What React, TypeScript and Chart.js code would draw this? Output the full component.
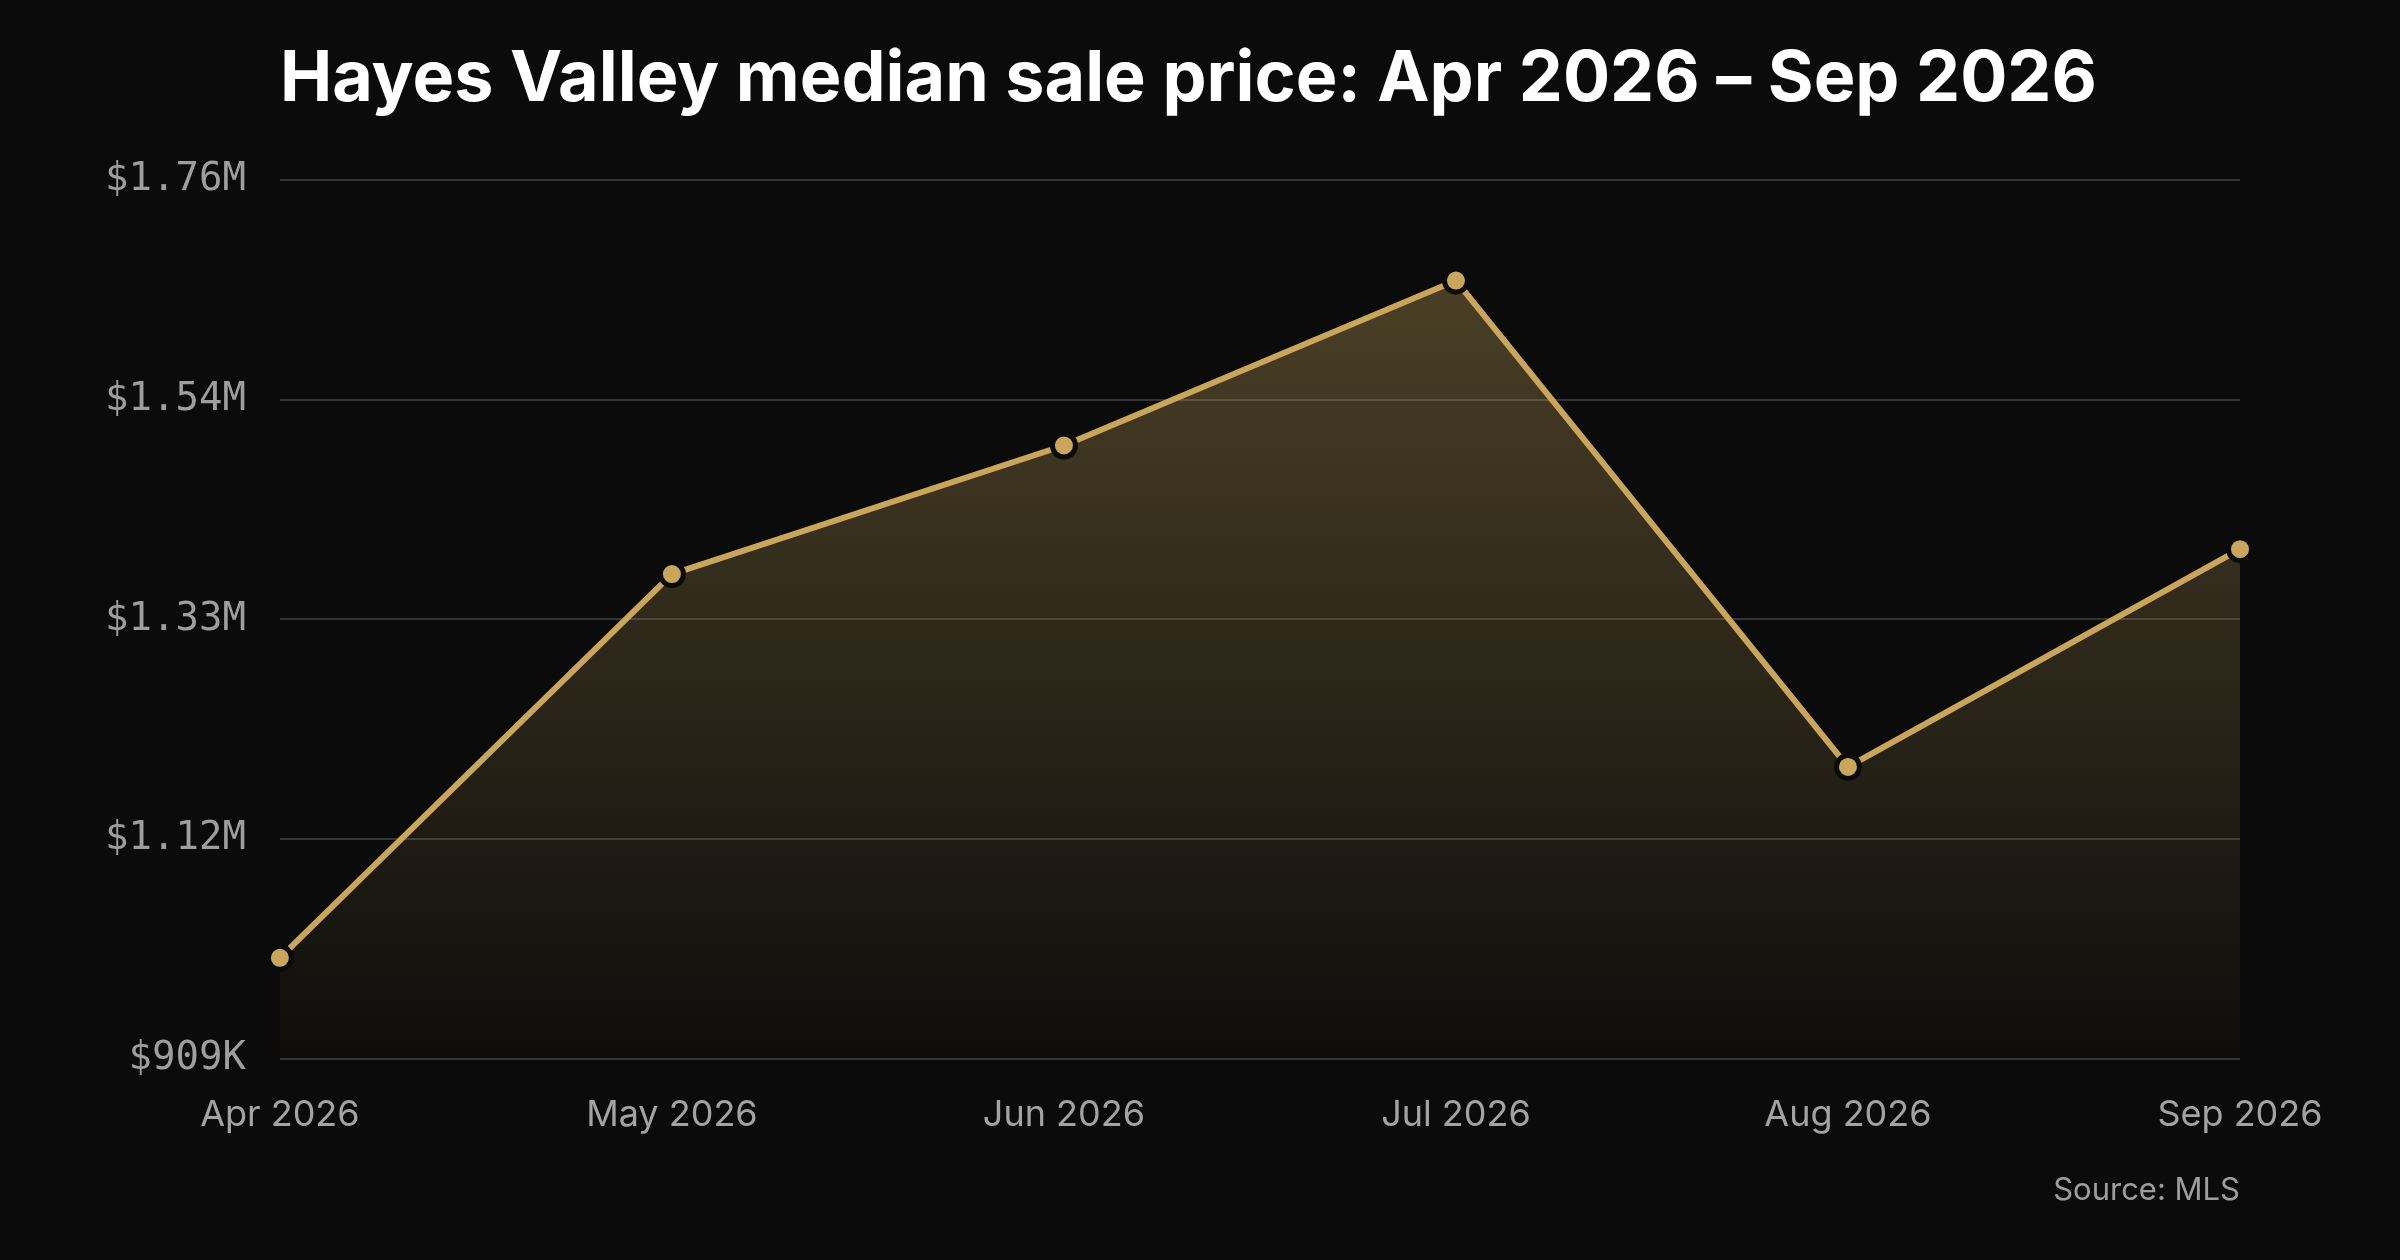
import React, { useEffect, useRef } from 'react';
import { Chart, registerables } from 'chart.js';

Chart.register(...registerables);

const months = ['Apr 2026', 'May 2026', 'Jun 2026', 'Jul 2026', 'Aug 2026', 'Sep 2026'];
const medianPrice = [1006000, 1376000, 1500000, 1659000, 1190000, 1400000];
const yTickValues = [908600, 1120450, 1332300, 1544150, 1756000];

const titleText = 'Hayes Valley median sale price: Apr 2026 \u2013 Sep 2026';
const sourceText = 'Source: MLS';

const GOLD = '#c9a65c';
const BG = '#0b0b0b';

const formatPrice = (v: number) =>
  v >= 1e6 ? `$${(v / 1e6).toFixed(2)}M` : `$${Math.round(v / 1e3)}K`;

// draws the title above and the source note below the plot area
const textPlugin = {
  id: 'titleAndSource',
  afterDraw(chart: Chart) {
    const { ctx, chartArea } = chart;
    ctx.save();
    ctx.fillStyle = '#ffffff';
    ctx.font = '700 70px Inter';
    ctx.textAlign = 'left';
    ctx.textBaseline = 'alphabetic';
    ctx.fillText(titleText, chartArea.left, 101);

    ctx.fillStyle = '#9e9e9e';
    ctx.font = '400 31px Inter';
    ctx.textAlign = 'right';
    ctx.fillText(sourceText, chartArea.right, 1200);
    ctx.restore();
  },
};

const LineChart: React.FC = () => {
  const canvasRef = useRef<HTMLCanvasElement | null>(null);

  useEffect(() => {
    if (!canvasRef.current) return;
    const ctx = canvasRef.current.getContext('2d');
    if (!ctx) return;

    const chartInstance = new Chart(ctx, {
      type: 'line',
      data: {
        labels: months,
        datasets: [{
          label: 'Median sale price',
          data: medianPrice,
          borderColor: GOLD,
          borderWidth: 6,
          tension: 0,
          fill: 'start',
          backgroundColor: (c: any) => {
            const area = c.chart.chartArea;
            if (!area) return 'rgba(201,166,92,0.2)';
            const g = c.chart.ctx.createLinearGradient(0, area.top, 0, area.bottom);
            g.addColorStop(0, 'rgba(201,166,92,0.38)');
            g.addColorStop(1, 'rgba(201,166,92,0.02)');
            return g;
          },
          pointRadius: 11.5,
          pointBorderWidth: 5,
          pointBackgroundColor: GOLD,
          pointBorderColor: BG,
          pointHoverRadius: 11.5,
        }],
      },
      options: {
        responsive: true,
        maintainAspectRatio: false,
        animation: false,
        layout: {
          padding: { left: 71, right: 160, top: 180, bottom: 88 },
        },
        plugins: {
          legend: { display: false },
          title: { display: false },
          tooltip: { enabled: false },
        },
        scales: {
          x: {
            offset: false,
            border: { display: false },
            grid: { display: false, drawTicks: false },
            ticks: {
              padding: 35,
              color: '#a3a3a3',
              font: { family: 'Inter', size: 36, lineHeight: 1.2 },
              maxRotation: 0,
            },
          },
          y: {
            min: yTickValues[0],
            max: yTickValues[yTickValues.length - 1],
            afterBuildTicks: (scale: any) => {
              scale.ticks = yTickValues.map(v => ({ value: v }));
            },
            border: { display: false },
            grid: {
              color: 'rgba(255,255,255,0.17)',
              lineWidth: 2,
              drawTicks: false,
            },
            ticks: {
              padding: 34,
              color: '#9e9e9e',
              font: { family: 'DejaVu Sans Mono', size: 39 },
              callback: (v: any) => formatPrice(Number(v)),
            },
          },
        },
      },
      plugins: [textPlugin],
    });

    return () => {
      chartInstance.destroy();
    };
  }, []);

  return (
    <div style={{ position: 'fixed', left: 0, top: 0, width: '100vw', height: '100vh', background: BG }}>
      <canvas ref={canvasRef}></canvas>
    </div>
  );
};

export default function App() {
  return <LineChart />;
}
